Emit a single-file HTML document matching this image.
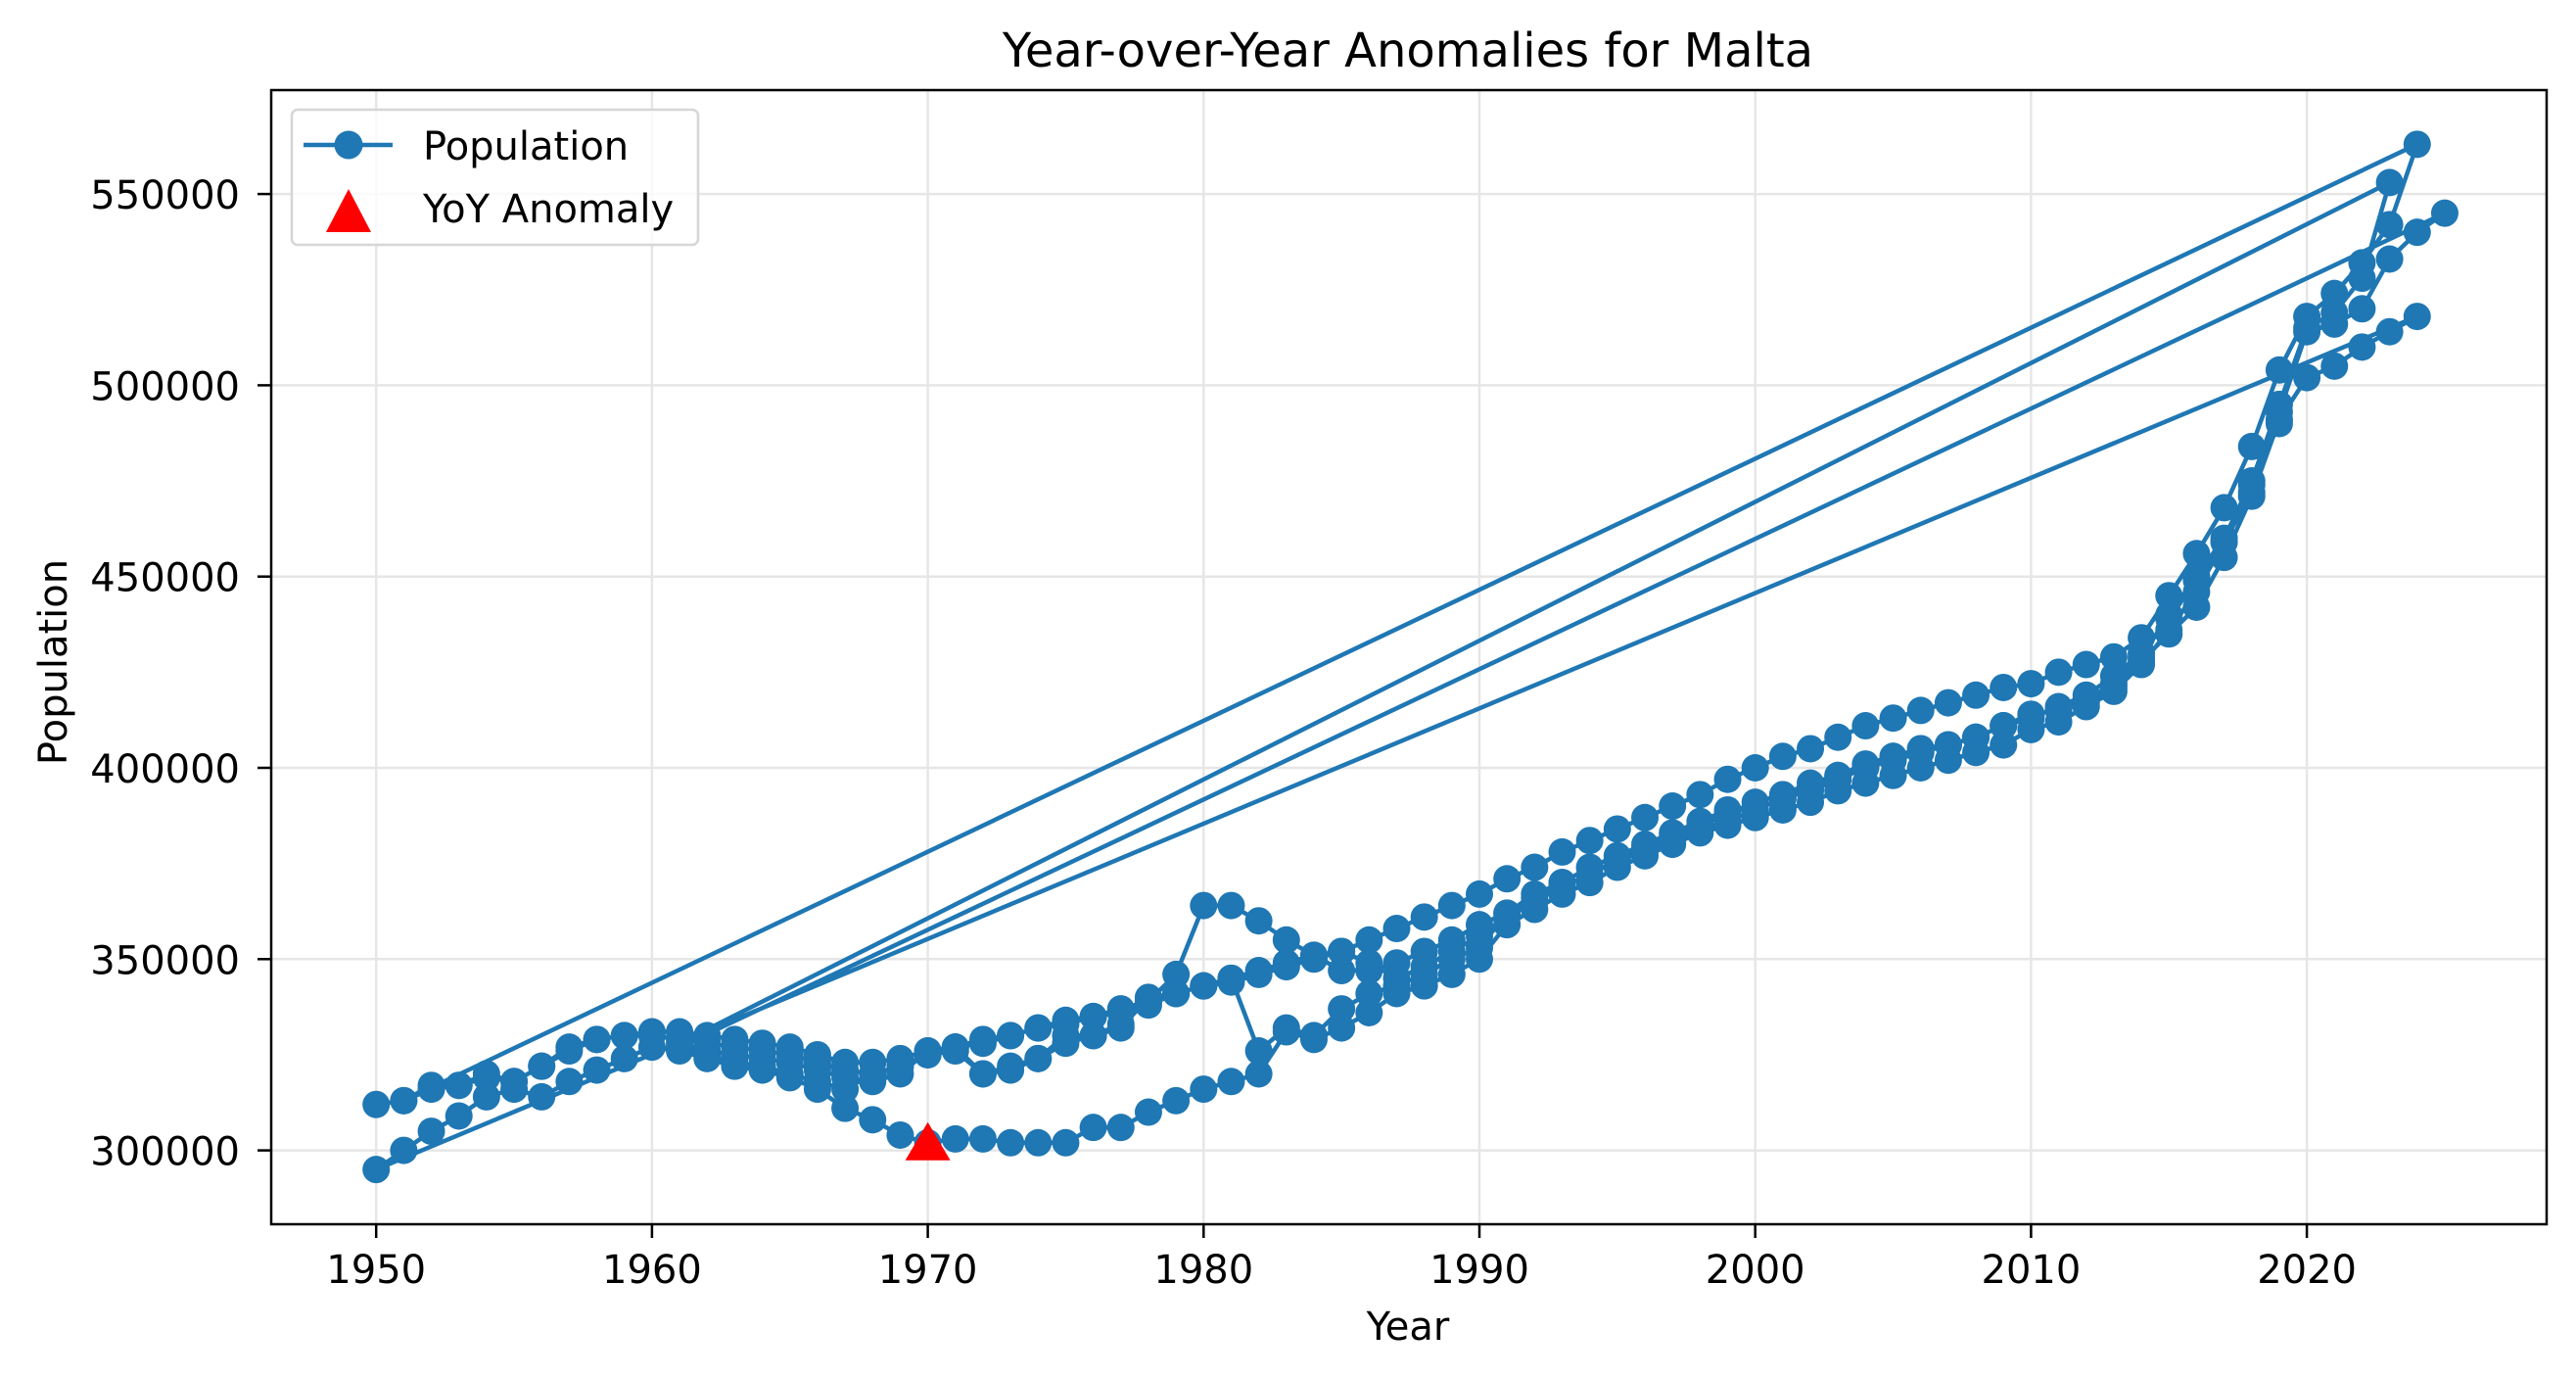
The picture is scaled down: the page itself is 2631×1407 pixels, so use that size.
<!DOCTYPE html>
<html><head><meta charset="utf-8"><style>
html,body{margin:0;padding:0;background:#fff;}
svg{display:block;font-family:"DejaVu Sans","Liberation Sans",sans-serif;}
</style></head><body>
<svg id="chart" width="2631" height="1407" viewBox="0 0 2631 1407" xmlns="http://www.w3.org/2000/svg">
<rect width="2631" height="1407" fill="#fff"/>
<g id="grid"></g>
<g id="marks"></g>
<rect x="277" y="92" width="2324" height="1158" fill="none" stroke="#000" stroke-width="2.5"/>
<g id="ticks"></g>
<text x="1438" y="68" font-size="48" text-anchor="middle">Year-over-Year Anomalies for Malta</text>
<text x="1438" y="1368" font-size="40" text-anchor="middle">Year</text>
<text x="68" y="676" font-size="40" text-anchor="middle" transform="rotate(-90 68 676)">Population</text>
<g>
<rect x="298" y="112" width="415" height="138" rx="6" fill="#fff" fill-opacity="0.8" stroke="#d6d6d6" stroke-width="2.5"/>
<line x1="310" y1="148" x2="401" y2="148" stroke="#1f77b4" stroke-width="4.5"/>
<circle cx="356" cy="148" r="14.5" fill="#1f77b4"/>
<text x="432" y="163" font-size="40">Population</text>
<polygon points="356,193 379,237 333,237" fill="#ff0000"/>
<text x="432" y="227" font-size="40">YoY Anomaly</text>
</g>
</svg>
<script>
const s1Start = 1950;
const s1 = [312,313,317,317,320,318,322,327,329,330, 331,331,330,329,328,327,325,323,323,324, 326,327,328,330,332,334,335,337,339,346, 364,364,360,355,351,352,355,358,361,364, 367,371,374,378,381,384,387,390,393,397, 400,403,405,408,411,413,415,417,419,421, 422,425,427,429,434,445,456,468,484,504, 518,524,532,542,563];
const s2Start = 1951;
const s2 = [313,316,317,319,318,322,326,329,330, 330,329,328,327,326,325,323,321,320,322, 325,326,320,322,324,328,330,332,340,341, 343,345,347,349,351,347,347,349,352,355, 359,362,366,370,374,377,379,382,385,388, 391,393,396,398,401,403,405,406,408,411, 414,415,418,422,429,440,450,460,475,495, 515,519,528,553];
const s3Start = 1961;
const s3 = [328,326,325,324,323,321,319,318,320, 326,327,329,330,332,333,335,336,338,341, 343,344,346,348,350,352,349,345,348,352, 356,361,365,369,372,376,378,381,384,386, 389,392,394,397,400,402,404,406,408,411, 413,416,419,424,430,439,449,459,472,493, 514,516,520,533,540,545];
const s4Start = 1961;
const s4 = [327,325,323,322,320,318,316,320,322, 325,327,320,321,324,330,330,333,339,341, 343,345,326,332,330,337,341,343,346,350, 353,362,367,370,374,377,380,383,386,389, 389,392,395,398,400,403,405,406,408,411, 414,415,417,421,428,435,442,455,471,491, 502,505,510,514,518];
const s5Start = 1950;
const s5 = [295,300,305,309,314,316,314,318,321,324, 327,326,324,322,321,319,316,311,308,304, 302,303,303,302,302,302,306,306,310,313, 316,318,320,331,329,332,336,341,343,346, 350,359,363,367,370,374,377,380,383,385, 387,389,391,394,396,398,400,402,404,406, 410,412,416,420,427,436,446,459,474,490];
const anomalyYears = [1970];
const anomalyValues = [302];
const xTicks = [1950,1960,1970,1980,1990,2000,2010,2020];
const yTicks = [300000,350000,400000,450000,500000,550000];

const NS = "http://www.w3.org/2000/svg";
function X(yr){ return 384.2 + (yr-1950)*28.17; }
function Y(v){ return 1174.6 - (v-300000)*0.003906; }
function mk(tag, attrs, parent){ const e=document.createElementNS(NS,tag); for(const k in attrs) e.setAttribute(k,attrs[k]); parent.appendChild(e); return e; }

const grid=document.getElementById('grid'), ticks=document.getElementById('ticks'), marks=document.getElementById('marks');
xTicks.forEach(t=>{
  const gl=mk('line',{x1:X(t),x2:X(t),y1:92,y2:1250,stroke:'#e6e6e6','stroke-width':2.5},grid);
  
  
  mk('line',{x1:X(t),x2:X(t),y1:1250,y2:1264,stroke:'#000','stroke-width':2.5},ticks);
  const tx=mk('text',{x:X(t),y:1310,'font-size':40,'text-anchor':'middle'},ticks);
  tx.textContent=t;
  
  
});
yTicks.forEach(t=>{
  const gl=mk('line',{x1:277,x2:2601,y1:Y(t),y2:Y(t),stroke:'#e6e6e6','stroke-width':2.5},grid);
  
  
  mk('line',{x1:263,x2:277,y1:Y(t),y2:Y(t),stroke:'#000','stroke-width':2.5},ticks);
  const tx=mk('text',{x:245,y:Y(t)+15,'font-size':40,'text-anchor':'end'},ticks);
  tx.textContent=t;
  
  
});

const all=[];
[[s1Start,s1],[s2Start,s2],[s3Start,s3],[s4Start,s4],[s5Start,s5]].forEach(([st,arr])=>{
  arr.forEach((v,i)=>all.push([st+i, v*1000]));
});
const pts=all.map(p=>X(p[0]).toFixed(1)+','+Y(p[1]).toFixed(1)).join(' ');
const line=mk('polyline',{points:pts,fill:'none',stroke:'#1f77b4','stroke-width':4.5,'stroke-linejoin':'round'},marks);


all.forEach(p=>{
  const c=mk('circle',{cx:X(p[0]),cy:Y(p[1]),r:14,fill:'#1f77b4'},marks);
  
  
});
anomalyYears.forEach((yr,i)=>{
  const cx=X(yr), cy=Y(anomalyValues[i]*1000);
  const tri=mk('polygon',{points:`${cx},${cy-21} ${cx+23},${cy+18} ${cx-23},${cy+18}`,fill:'#ff0000'},marks);
  
  
});
</script>
</body></html>
